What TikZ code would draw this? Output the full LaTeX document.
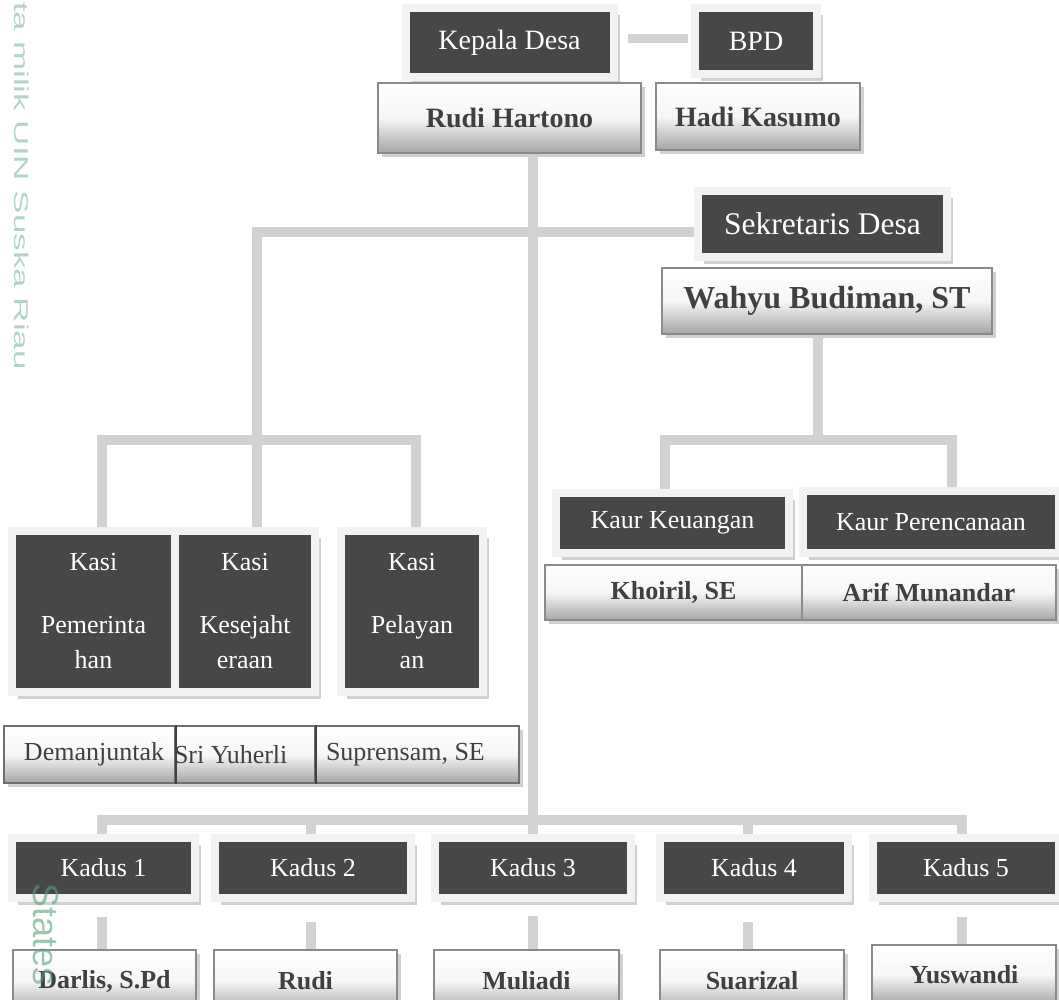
\documentclass[tikz,border=0pt]{standalone}
\usepackage{fontspec}
\setmainfont{Liberation Serif}
\newfontfamily\wmfont{Liberation Sans}
\usetikzlibrary{shadows,calc}
\pgfdeclarelayer{bg}
\pgfsetlayers{bg,main}
\definecolor{darkbox}{RGB}{71,71,71}
\definecolor{framec}{RGB}{242,242,242}
\definecolor{shadowc}{RGB}{208,208,208}
\definecolor{connc}{RGB}{210,210,210}
\definecolor{nametext}{RGB}{64,64,64}
\definecolor{nameborder}{RGB}{138,138,138}
\definecolor{namebot}{RGB}{165,165,165}
\definecolor{namemid}{RGB}{246,246,246}
\definecolor{divc}{RGB}{64,64,64}
\definecolor{wmgreen}{RGB}{178,212,195}
\definecolor{wmdark}{RGB}{90,160,125}
\tikzset{
  title/.style={rectangle, fill=darkbox, draw=framec, line width=8pt, text=white, inner sep=0pt,
    font=\fontsize{26}{30}\selectfont,
    drop shadow={shadow xshift=6pt, shadow yshift=-7pt, fill=shadowc, opacity=1}},
  person/.style={rectangle, draw=nameborder, line width=2.5pt, top color=white, bottom color=namebot,
    middle color=namemid, text=nametext, inner sep=0pt,
    font=\bfseries\fontsize{26}{30}\selectfont,
    drop shadow={shadow xshift=4pt, shadow yshift=-4pt, fill=shadowc, opacity=1}},
  staff/.style={person, font=\fontsize{26}{30}\selectfont, draw=nameborder!80!black, line width=2pt,
    drop shadow={shadow xshift=4pt, shadow yshift=-4pt, fill=shadowc, opacity=1}},
  conn/.style={draw=connc, line width=10pt},
  divider/.style={draw=divc, line width=2pt},
  wm/.style={rotate=-90, inner sep=0pt},
}
\begin{document}
\begin{tikzpicture}[x=1pt,y=-1pt]
\useasboundingbox (0,0) rectangle (1059,999);
% top
\node[title, font=\fontsize{28}{32}\selectfont, minimum width=208pt, minimum height=69pt] (kd) at (509.5,42.5) {Kepala Desa};
\node[title, font=\fontsize{28}{32}\selectfont, minimum width=122pt, minimum height=66pt] (bpd) at (756,41) {BPD};
\node[person, font=\bfseries\fontsize{28}{32}\selectfont, minimum width=263pt, minimum height=70pt] (rh) at (509.5,118) {Rudi Hartono};
\node[person, font=\bfseries\fontsize{28}{32}\selectfont, minimum width=204pt, minimum height=67pt] (hk) at (758,116.5) {Hadi Kasumo};
% sekretaris
\node[title, font=\fontsize{31.5}{34}\selectfont, minimum width=249pt, minimum height=66pt] (sd) at (822.5,224) {Sekretaris Desa};
\node[person, font=\bfseries\fontsize{32}{36}\selectfont, minimum width=330pt, minimum height=66pt] (wb) at (827,301) {Wahyu Budiman, ST};
% kaur
\node[title, minimum width=233pt, minimum height=60pt] (kk) at (672.5,523) {Kaur Keuangan};
\node[title, minimum width=256pt, minimum height=62pt] (kp) at (931,522) {Kaur Perencanaan};
\node[person, minimum width=257pt, minimum height=55pt] (kh) at (673.5,592.5) {Khoiril, SE};
\node[person, minimum width=254pt, minimum height=55pt] (am) at (929,592.5) {Arif Munandar};
% kasi
\node[title, font=\fontsize{26}{35}\selectfont, align=center, minimum width=163pt, minimum height=161pt] (kasi1) at (93.5,611.5) {Kasi\\[28pt]Pemerinta\\han};
\node[title, font=\fontsize{26}{35}\selectfont, align=center, minimum width=140pt, minimum height=161pt] (kasi2) at (245,611.5) {Kasi\\[28pt]Kesejaht\\eraan};
\node[title, font=\fontsize{26}{35}\selectfont, align=center, minimum width=142pt, minimum height=161pt] (kasi3) at (412,611.5) {Kasi\\[28pt]Pelayan\\an};
\node[staff, minimum width=171pt, minimum height=57pt] (n1) at (89.5,754.5) {\makebox[171pt][l]{\hspace{20pt}Demanjuntak}};
\node[staff, minimum width=140pt, minimum height=57pt] (n2) at (245,754.5) {\makebox[140pt][l]{\hspace{-1pt}Sri Yuherli}};
\node[staff, minimum width=204pt, minimum height=57pt] (n3) at (417,754.5) {\makebox[204pt][l]{\hspace{11pt}Suprensam, SE}};
\draw[divider] (n1.north east) -- (n1.south east);
\draw[divider] (n2.north east) -- (n2.south east);
% kadus
\node[title, minimum width=183pt, minimum height=60pt] (kadus1) at (103.5,868) {Kadus 1};
\node[title, minimum width=196pt, minimum height=60pt] (kadus2) at (313,868) {Kadus 2};
\node[title, minimum width=196pt, minimum height=60pt] (kadus3) at (533,868) {Kadus 3};
\node[title, minimum width=188pt, minimum height=60pt] (kadus4) at (754,868) {Kadus 4};
\node[title, minimum width=186pt, minimum height=60pt] (kadus5) at (966,868) {Kadus 5};
\node[person, minimum width=183pt, minimum height=62pt] (darlis) at (104.5,981) {Darlis, S.Pd};
\node[person, minimum width=183pt, minimum height=62pt] (rudi) at (305.5,981) {Rudi};
\node[person, minimum width=185pt, minimum height=62pt] (muliadi) at (526.5,981) {Muliadi};
\node[person, minimum width=184pt, minimum height=62pt] (suarizal) at (752,981) {Suarizal};
\node[person, minimum width=184pt, minimum height=60pt] (yuswandi) at (964,975) {Yuswandi};
% connectors
\coordinate (kbar) at (533,820);
\coordinate (kasibar) at (257,440);
\coordinate (kaurbar) at (818,440);
\begin{pgfonlayer}{bg}
\draw[conn, line width=9pt] ([xshift=10pt,yshift=4.5pt]kd.east) -- ([xshift=-3pt,yshift=4.5pt]kd.east -| bpd.west);
\draw[conn] (rh.south -| kbar) -- (kbar);
\draw[conn] ([xshift=-2pt]kadus1.north) |- (kbar) -| ([xshift=-4pt]kadus5.north);
\draw[conn] ([xshift=-2pt]kadus2.north) -- ([xshift=-2pt]kadus2.north |- kbar);
\draw[conn] (kadus3.north) -- (kbar);
\draw[conn] ([xshift=-6pt]kadus4.north) -- ([xshift=-6pt]kadus4.north |- kbar);
\draw[conn] ([xshift=-2pt,yshift=-15pt]kadus1.south) -- ([xshift=-2pt]kadus1.south |- darlis.north);
\draw[conn] ([xshift=-2pt,yshift=-20pt]kadus2.south) -- ([xshift=-2pt]kadus2.south |- rudi.north);
\draw[conn] ([yshift=-14pt]kadus3.south) -- (kadus3.south |- muliadi.north);
\draw[conn] ([xshift=-6pt,yshift=-20pt]kadus4.south) -- ([xshift=-6pt]kadus4.south |- suarizal.north);
\draw[conn] ([xshift=-4pt,yshift=-15pt]kadus5.south) -- ([xshift=-4pt]kadus5.south |- yuswandi.north);
\draw[conn] ([yshift=-8pt]sd.west) -| ([xshift=12pt]kasi2.north);
\draw[conn] ([xshift=8.5pt]kasi1.north) |- (kasibar) -| ([xshift=4pt]kasi3.north);
\draw[conn] ([xshift=-9pt]wb.south) -- (kaurbar);
\draw[conn] ([xshift=-7.5pt]kk.north) |- (kaurbar) -| ([xshift=21pt]kp.north);
\end{pgfonlayer}
% watermark texts
\node[wm, anchor=south west, text=wmgreen, font=\wmfont\fontsize{20}{20}\selectfont] (wm1) at (14,2) {\scalebox{1.75}[1]{ta milik UIN Suska Riau}};
\node[wm, anchor=south west, text=wmdark, opacity=0.6, font=\wmfont\fontsize{36}{36}\selectfont] (wm2) at (33,883) {States};
\end{tikzpicture}
\end{document}
